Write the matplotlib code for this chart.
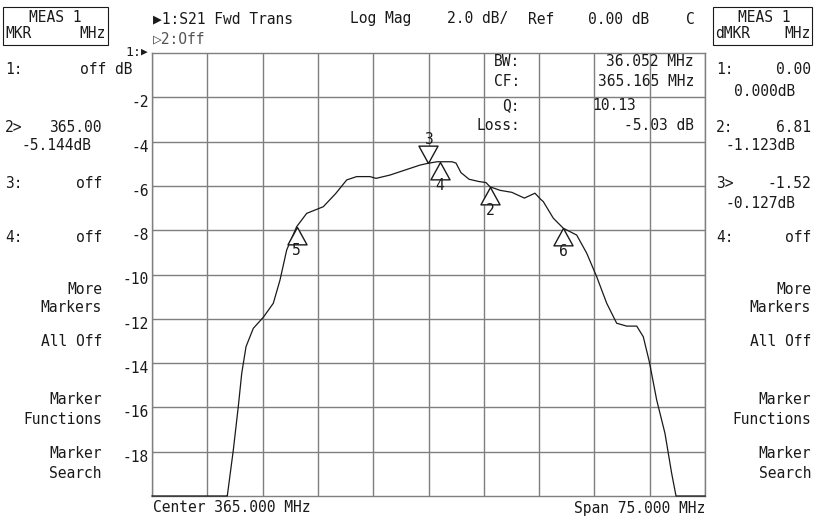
import matplotlib
matplotlib.use("Agg")
import matplotlib.pyplot as plt
import matplotlib.transforms as mtransforms
from matplotlib.path import Path
from matplotlib.patches import Rectangle

# trace S21 (MHz, dB)
freq_mhz = [327.5, 337.63, 337.71, 338.53, 339.20, 339.67, 340.25, 341.24, 342.60,
            343.95, 344.86, 345.77, 347.12, 348.48, 350.73, 352.4, 353.91, 355.26,
            357.07, 357.88, 359.78, 361.13, 362.49, 363.85, 364.93, 366.15, 368.19,
            368.73, 369.4, 370.5, 371.8, 372.8, 373.34, 374.7, 376.3, 378.0,
            379.44, 380.2, 380.57, 381.93, 383.28,
            385.10, 386.46, 387.81, 389.17, 390.52, 391.88, 393.24, 394.13, 394.95,
            395.95, 397.07, 397.98, 398.57, 402.5]
s21_db = [-20.0, -20.0, -20.0, -17.92, -15.97, -14.46, -13.26, -12.43, -11.93,
          -11.30, -10.25, -8.89, -7.84, -7.24, -6.94, -6.35, -5.73, -5.58,
          -5.58, -5.66, -5.51, -5.36, -5.21, -5.06, -4.98, -4.91, -4.91,
          -4.97, -5.40, -5.70, -5.80, -5.85, -6.04, -6.20, -6.29, -6.55,
          -6.33, -6.60, -6.71, -7.46, -7.91,
          -8.22, -9.04, -10.10, -11.30, -12.20, -12.33, -12.33, -12.81, -13.94,
          -15.67, -17.17, -18.98, -20.0, -20.0]

# markers on the trace
mkr_ids = ["3", "4", "2", "5", "6"]
mkr_freq = [364.93, 366.56, 373.34, 347.12, 383.28]
mkr_db = [-4.98, -4.91, -6.04, -7.84, -7.91]
mkr_down = [True, False, False, False, False]

center_mhz = 365.0
span_mhz = 75.0
y_ticks = [-2, -4, -6, -8, -10, -12, -14, -16, -18]

left_rows = [("1:", "off dB", 70), ("2>", "365.00", 128), ("3:", "off", 184), ("4:", "off", 237)]
right_rows = [("1:", "0.00", 70), ("2:", "6.81", 128), ("3>", "-1.52", 184), ("4:", "off", 237)]
right_sub = [("0.000dB", 91), ("-1.123dB", 146), ("-0.127dB", 204)]
softkeys = [("More", 289), ("Markers", 308), ("All Off", 341), ("Marker", 399),
            ("Functions", 419), ("Marker", 453), ("Search", 473)]

W, H = 815, 517
ink = "#1a1a1a"
grid_c = "#7f7f7f"
plt.rcParams["font.family"] = ["DejaVu Sans Mono", "DejaVu Sans"]
FS = 10.5

fig = plt.figure(figsize=(W / 100, H / 100), dpi=100)
fig.patch.set_facecolor("white")


def fx(x):
    return x / W


def fy(y):
    return 1 - y / H


def txt(x, y, s, ha="left", size=FS, color=ink):
    fig.text(fx(x), fy(y), s, ha=ha, va="center", fontsize=size, color=color)


# plot area: 10 x 10 divisions
ax = fig.add_axes([fx(152), fy(496), fx(705) - fx(152), fy(53) - fy(496)])
ax.set_xlim(center_mhz - span_mhz / 2, center_mhz + span_mhz / 2)
ax.set_ylim(-20, 0)
ax.set_xticks([center_mhz - span_mhz / 2 + i * span_mhz / 10 for i in range(11)])
ax.set_yticks(y_ticks)
ax.set_yticklabels([str(v) for v in y_ticks])
ax.tick_params(axis="x", length=0, labelbottom=False)
ax.tick_params(axis="y", length=0, pad=2, labelsize=FS, labelcolor=ink)
off = mtransforms.ScaledTranslation(0, -4 / 100, fig.dpi_scale_trans)
for lab in ax.get_yticklabels():
    lab.set_transform(lab.get_transform() + off)
ax.grid(True, color=grid_c, lw=1.0)
for sp in ax.spines.values():
    sp.set_color(grid_c)
    sp.set_linewidth(1.0)

ax.plot(freq_mhz, s21_db, color=ink, lw=0.9, clip_on=False, zorder=3)

tri_up = Path([(0, 0), (-0.55, -1), (0.55, -1), (0, 0)])
tri_dn = Path([(0, 0), (-0.55, 1), (0.55, 1), (0, 0)])
for mid, f, d, dn in zip(mkr_ids, mkr_freq, mkr_db, mkr_down):
    ax.plot([f], [d], marker=tri_dn if dn else tri_up, ms=25, mfc="white",
            mec=ink, mew=1.0, zorder=4, clip_on=False)
    ax.annotate(mid, (f, d), xytext=(0, 17 if dn else -17), textcoords="offset points",
                ha="center", va="center", fontsize=FS, color=ink, zorder=5)

# header
txt(153, 19, "\u25b61:S21 Fwd Trans")
txt(350, 19, "Log Mag")
txt(447, 19, "2.0 dB/")
txt(528, 19, "Ref")
txt(588, 19, "0.00 dB")
txt(686, 19, "C")
txt(153, 39, "\u25b72:Off", color="#555555")
txt(141, 53, "1:", ha="right", size=9.5)
txt(141, 52, "\u25b6", size=8)

# bandwidth readout
txt(520, 62, "BW:", ha="right")
txt(694, 62, "36.052 MHz", ha="right")
txt(520, 81, "CF:", ha="right")
txt(694, 81, "365.165 MHz", ha="right")
txt(520, 106, "Q:", ha="right")
txt(592, 106, "10.13")
txt(520, 125, "Loss:", ha="right")
txt(694, 125, "-5.03 dB", ha="right")

# left marker panel
fig.add_artist(Rectangle((fx(3), fy(45)), fx(108) - fx(3), fy(7) - fy(45),
                         transform=fig.transFigure, fill=False, ec=ink, lw=0.8))
txt(55, 17, "MEAS 1", ha="center")
txt(5, 34, "MKR")
txt(106, 34, "MHz", ha="right")
for lab, val, y in left_rows:
    txt(5, y, lab)
    txt(132 if val == "off dB" else 102, y, val, ha="right")
txt(92, 146, "-5.144dB", ha="right")
for s, y in softkeys:
    txt(102, y, s, ha="right")

# right marker panel
fig.add_artist(Rectangle((fx(713), fy(45)), fx(812) - fx(713), fy(7) - fy(45),
                         transform=fig.transFigure, fill=False, ec=ink, lw=0.8))
txt(764, 17, "MEAS 1", ha="center")
txt(715, 34, "dMKR")
txt(811, 34, "MHz", ha="right")
for lab, val, y in right_rows:
    txt(716, y, lab)
    txt(811, y, val, ha="right")
for val, y in right_sub:
    txt(795, y, val, ha="right")
for s, y in softkeys:
    txt(811, y, s, ha="right")

# footer
txt(153, 508, "Center %.3f MHz" % center_mhz)
txt(705, 508, "Span %.3f MHz" % span_mhz, ha="right")

fig.savefig("out.png", dpi=100, facecolor="white")
